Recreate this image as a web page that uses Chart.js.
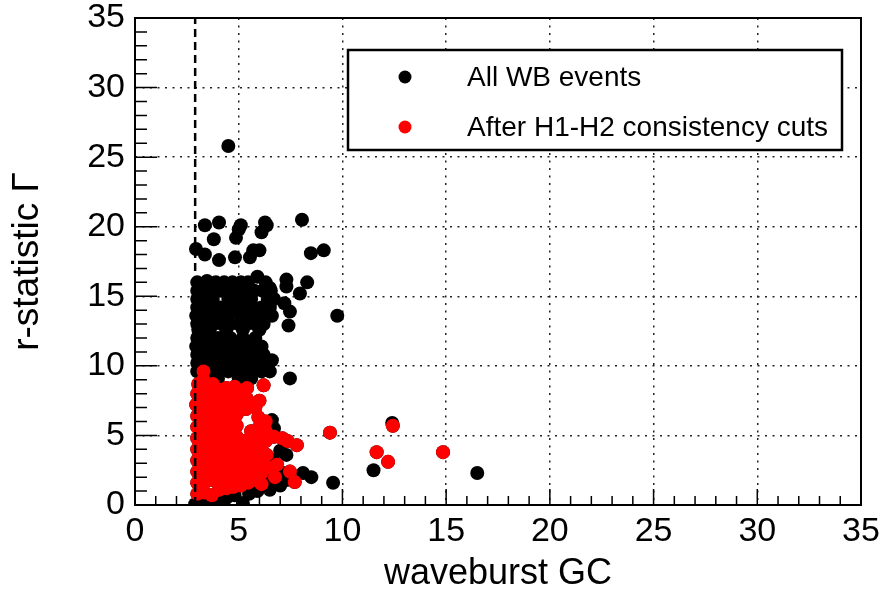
<!DOCTYPE html>
<html>
<head>
<meta charset="utf-8">
<script src="https://cdn.jsdelivr.net/npm/chart.js@4.4.1/dist/chart.umd.min.js"></script>
<style>
  html, body { margin: 0; padding: 0; background: #fff; }
  #wrap { width: 881px; height: 603px; }
</style>
</head>
<body>
<div id="wrap"><canvas id="scatter" width="881" height="603"></canvas></div>
<script>
// axis range and ticks (same on both axes)
const axisMin = 0;
const axisMax = 35;
const majorStep = 5;
const minorStep = 1;
const cutGC = 2.9;   // dashed threshold on waveburst GC

const seriesLabels = ['All WB events', 'After H1-H2 consistency cuts'];
const seriesColors = ['#000000', '#ff0000'];

// events rejected by the H1-H2 cuts: [GC, r-statistic]
const rejectedEvents = [
  [4.5, 25.8],
  [3.37, 20.1], [4.05, 20.3], [5.0, 19.8], [5.1, 20.1], [4.87, 19.2], [3.8, 19.1],
  [6.27, 20.3], [6.35, 20.1], [6.1, 19.6], [8.05, 20.5],
  [2.94, 18.4], [3.37, 18.0], [4.05, 17.6], [4.82, 17.8], [5.54, 17.8], [5.7, 18.3],
  [6.0, 18.3], [8.48, 18.1], [9.1, 18.3],
  [3.47, 16.1], [4.25, 15.9], [5.45, 16.0], [5.9, 16.4], [6.5, 15.6], [7.3, 16.2],
  [8.3, 16.0], [7.95, 15.2], [7.3, 15.7], [7.2, 14.5], [7.47, 13.9], [7.4, 12.9], [9.75, 13.6],
  [3.0, 16.0], [3.9, 16.0], [4.3, 16.0], [4.7, 16.0], [5.1, 16.0], [6.3, 16.0],
  [3.0, 15.4], [3.35, 15.4], [3.75, 15.4], [4.15, 15.4], [4.55, 15.4], [4.95, 15.4], [5.35, 15.4],
  [5.75, 15.4], [6.15, 15.4], [6.55, 15.4],
  [3.0, 14.8], [3.4, 14.8], [3.75, 14.8], [4.5, 14.8], [4.9, 14.8], [5.3, 14.8], [5.6, 14.8],
  [6.4, 14.8], [6.7, 14.8],
  [3.0, 14.2], [3.35, 14.2], [3.7, 14.2], [4.1, 14.2], [4.5, 14.2], [4.9, 14.2], [5.3, 14.2],
  [5.7, 14.2], [6.1, 14.2], [6.5, 14.2],
  [2.95, 13.6], [3.35, 13.6], [3.75, 13.6], [4.15, 13.6], [4.5, 13.6], [5.1, 13.6], [5.45, 13.6],
  [5.85, 13.6], [6.25, 13.6], [6.6, 13.6],
  [3.0, 13.0], [3.4, 13.0], [3.8, 13.0], [4.2, 13.0], [4.6, 13.0], [5.0, 13.0], [5.4, 13.0],
  [5.8, 13.0], [6.2, 13.0],
  [3.05, 12.6], [3.6, 12.6], [4.4, 12.6], [5.2, 12.6], [6.0, 12.6],
  [3.0, 12.0], [3.5, 12.0], [4.0, 12.0], [4.6, 12.0], [5.2, 12.0], [5.8, 12.0],
  [2.95, 11.4], [3.3, 11.4], [3.7, 11.4], [4.1, 11.4], [4.5, 11.4], [4.9, 11.4], [5.3, 11.6],
  [5.7, 11.4], [6.1, 11.4],
  [3.0, 10.8], [3.4, 10.8], [3.8, 10.8], [4.2, 10.8], [4.6, 10.8], [5.0, 10.8], [5.4, 10.8],
  [5.8, 10.8], [6.2, 10.8], [6.6, 10.4],
  [3.0, 10.2], [3.4, 10.2], [3.8, 10.2], [4.2, 10.2], [4.6, 10.2], [5.0, 10.2], [5.4, 10.2],
  [5.8, 10.2], [6.2, 10.2],
  [3.0, 9.6], [3.7, 9.6], [4.1, 9.6], [4.5, 9.6], [4.9, 9.6], [5.3, 9.6], [5.7, 9.6], [6.1, 9.6],
  [6.5, 9.6], [4.0, 9.1], [5.0, 9.1], [5.6, 9.1], [7.47, 9.1],
  [6.6, 6.1], [6.7, 5.5], [7.0, 3.9], [7.3, 3.6], [6.65, 3.25],
  [2.9, 0.05], [3.3, 0.2], [3.6, 0.45], [4.0, 0.15], [4.4, 0.5], [4.8, 0.7], [5.2, 0.15],
  [5.5, 0.8], [5.9, 1.0], [6.5, 1.1], [6.6, 1.9], [7.0, 2.4], [7.3, 1.8], [7.0, 1.4],
  [8.1, 2.3], [8.5, 2.0], [9.55, 1.6], [11.5, 2.5], [12.4, 5.9], [16.5, 2.3]
];

// events surviving the H1-H2 consistency cuts
const keptEvents = [
  [3.0, 0.8], [3.0, 1.6], [3.0, 2.4], [3.0, 3.2], [3.0, 4.0], [3.0, 4.8], [3.0, 5.6], [3.0, 6.4],
  [2.95, 7.2], [3.0, 8.0], [3.05, 8.7],
  [3.35, 0.9], [3.35, 1.7], [3.35, 2.5], [3.35, 3.3], [3.35, 4.1], [3.35, 4.9], [3.35, 5.7],
  [3.35, 6.5], [3.35, 7.3], [3.35, 8.1], [3.3, 9.0], [3.3, 9.6],
  [3.7, 0.7], [3.7, 1.8], [3.7, 2.6], [3.7, 3.4], [3.7, 4.2], [3.7, 5.0], [3.7, 5.8], [3.7, 6.6],
  [3.7, 7.4], [3.7, 8.2], [3.75, 8.7],
  [4.05, 1.1], [4.05, 1.9], [4.05, 2.7], [4.05, 3.5], [4.05, 4.3], [4.05, 5.1], [4.05, 5.9],
  [4.05, 6.7], [4.05, 7.5], [4.05, 8.3],
  [4.4, 1.2], [4.4, 2.0], [4.4, 2.8], [4.4, 3.6], [4.4, 4.4], [4.4, 5.2], [4.4, 6.0], [4.4, 6.8],
  [4.4, 7.6], [4.4, 8.4],
  [4.75, 1.3], [4.75, 2.1], [4.75, 2.9], [4.75, 3.7], [4.75, 4.5], [4.75, 5.3], [4.75, 6.1],
  [4.75, 6.9], [4.75, 7.7], [4.8, 8.5],
  [4.9, 4.9], [4.9, 5.7], [4.9, 6.5],
  [5.1, 1.4], [5.1, 2.3], [5.1, 3.1], [5.1, 3.9], [5.0, 7.3], [5.1, 7.9],
  [5.3, 4.6], [5.35, 6.9], [5.6, 5.3],
  [5.45, 1.6], [5.45, 2.5], [5.45, 3.3], [5.45, 4.0], [5.4, 7.6], [5.4, 8.4],
  [5.8, 1.8], [5.8, 2.7], [5.8, 3.5], [5.8, 4.2], [5.8, 7.0],
  [5.95, 4.8], [5.95, 5.5], [5.95, 6.3], [6.0, 7.5],
  [6.1, 1.5], [6.1, 2.3], [6.1, 3.1], [6.1, 3.9],
  [6.4, 2.7], [6.35, 3.6], [6.3, 4.6], [6.3, 5.3], [6.3, 6.0],
  [6.2, 8.6], [6.7, 4.9], [7.1, 4.8], [7.35, 4.6], [7.8, 4.3],
  [6.85, 2.9], [7.47, 2.4], [6.75, 2.0], [7.7, 1.65],
  [9.4, 5.2], [11.65, 3.8], [12.2, 3.1], [12.43, 5.7], [14.85, 3.8]
];

const toPoint = p => ({ x: p[0], y: p[1] });
const allEvents = rejectedEvents.concat(keptEvents).map(toPoint);
const cutEvents = keptEvents.map(toPoint);
const cutLine = [{ x: cutGC, y: axisMin }, { x: cutGC, y: axisMax }];

const fontFamily = '"Liberation Sans", Arial, Helvetica, sans-serif';
const markerRadius = 7;

// ROOT-like frame: inward ticks, box border, boxed legend
const rootFrame = {
  id: 'rootFrame',
  beforeDatasetsDraw(chart) {
    const { ctx, chartArea: a, scales: { x, y } } = chart;
    ctx.save();
    ctx.strokeStyle = '#000';
    ctx.lineWidth = 1.5;
    ctx.beginPath();
    for (let v = axisMin; v <= axisMax; v += minorStep) {
      const major = v % majorStep === 0;
      const px = x.getPixelForValue(v);
      ctx.moveTo(px, a.bottom);
      ctx.lineTo(px, a.bottom - (major ? 16 : 9));
      const py = y.getPixelForValue(v);
      ctx.moveTo(a.left, py);
      ctx.lineTo(a.left + (major ? 22 : 12), py);
    }
    ctx.stroke();
    ctx.restore();
  },
  afterDraw(chart) {
    const { ctx, chartArea: a } = chart;
    ctx.save();
    ctx.strokeStyle = '#000';
    ctx.lineWidth = 2;
    ctx.strokeRect(a.left, a.top, a.right - a.left, a.bottom - a.top);

    // legend box
    const bx = 348, by = 50, bw = 494, bh = 100;
    ctx.fillStyle = '#fff';
    ctx.fillRect(bx, by, bw, bh);
    ctx.lineWidth = 2.5;
    ctx.strokeRect(bx, by, bw, bh);
    ctx.font = '28px ' + fontFamily;
    ctx.textBaseline = 'middle';
    ctx.textAlign = 'left';
    seriesLabels.forEach((label, i) => {
      const rowY = by + 27 + i * 50;
      ctx.fillStyle = seriesColors[i];
      ctx.beginPath();
      ctx.arc(bx + 57, rowY, 6.5, 0, Math.PI * 2);
      ctx.fill();
      ctx.fillStyle = '#000';
      ctx.fillText(label, bx + 119, rowY + 1);
    });
    ctx.restore();
  }
};

const axisCommon = {
  type: 'linear',
  min: axisMin,
  max: axisMax,
  ticks: {
    stepSize: majorStep,
    color: '#000',
    font: { family: fontFamily, size: 34 }
  },
  grid: {
    color: '#222',
    lineWidth: 1.5,
    drawTicks: false
  },
  border: { display: false, dash: [2, 5.5] }
};

new Chart(document.getElementById('scatter'), {
  type: 'scatter',
  data: {
    datasets: [
      {
        label: 'cut',
        data: cutLine,
        showLine: true,
        borderColor: '#000',
        borderWidth: 2.5,
        borderDash: [8, 5],
        pointRadius: 0,
        order: 0
      },
      {
        label: seriesLabels[1],
        data: cutEvents,
        backgroundColor: seriesColors[1],
        borderWidth: 0,
        pointRadius: markerRadius,
        order: 1
      },
      {
        label: seriesLabels[0],
        data: allEvents,
        backgroundColor: seriesColors[0],
        borderWidth: 0,
        pointRadius: markerRadius,
        order: 2
      }
    ]
  },
  options: {
    responsive: false,
    animation: false,
    layout: { padding: { top: 18, right: 20, left: 0, bottom: 0 } },
    plugins: {
      legend: { display: false },
      tooltip: { enabled: false }
    },
    scales: {
      x: Object.assign({}, axisCommon, {
        ticks: Object.assign({}, axisCommon.ticks, { padding: 6, maxRotation: 0 }),
        title: {
          display: true,
          text: 'waveburst GC',
          color: '#000',
          font: { family: fontFamily, size: 36 },
          padding: { top: 0, bottom: 7 }
        },
        afterFit(scale) {
          scale.height = 98;
          scale.paddingLeft = 0;
          scale.paddingRight = 0;
        }
      }),
      y: Object.assign({}, axisCommon, {
        ticks: Object.assign({}, axisCommon.ticks, { padding: 10 }),
        title: {
          display: true,
          text: 'r-statistic Γ',
          color: '#000',
          font: { family: fontFamily, size: 37 },
          padding: { top: 6, bottom: 0 }
        },
        afterFit(scale) {
          scale.width = 135;
          scale.paddingTop = 0;
          scale.paddingBottom = 0;
        }
      })
    }
  },
  plugins: [rootFrame]
});
</script>
</body>
</html>
